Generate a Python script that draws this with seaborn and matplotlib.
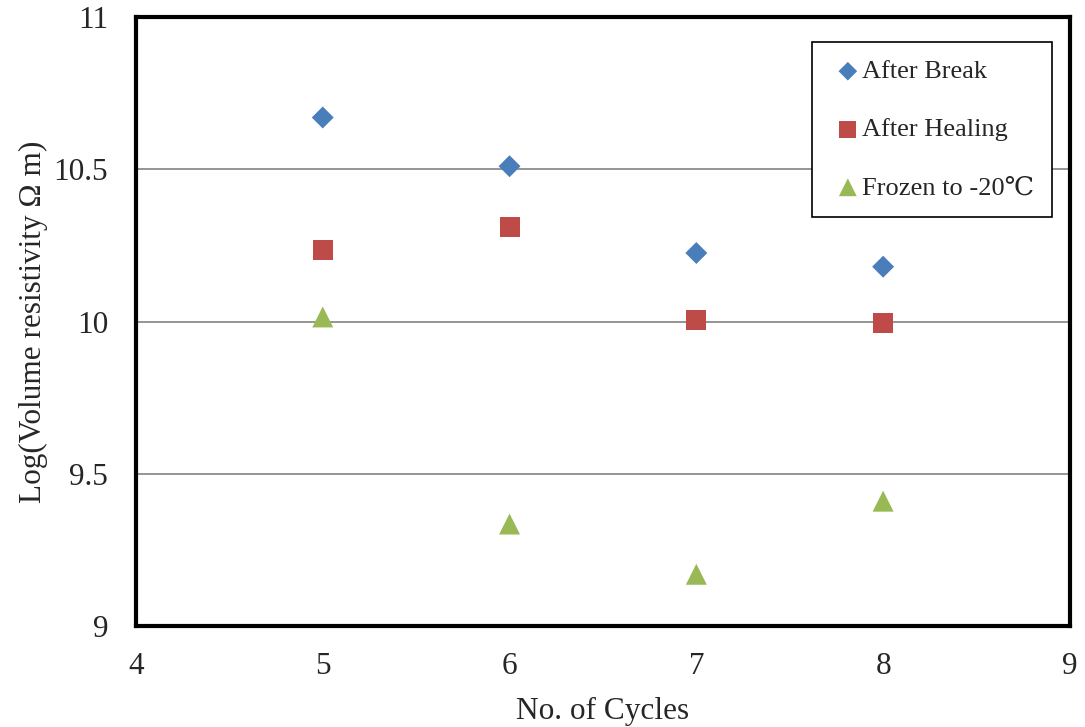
import numpy as np
import matplotlib
matplotlib.use("Agg")
import matplotlib.pyplot as plt
import seaborn as sns
import pandas as pd

# Data
cycles = [5, 6, 7, 8]
after_break = [10.67, 10.51, 10.225, 10.18]
after_healing = [10.235, 10.31, 10.005, 9.995]
frozen = [10.015, 9.335, 9.17, 9.41]

series_names = ["After Break", "After Healing", "Frozen to -20\u2103"]

df = pd.DataFrame({
    "cycle": cycles * 3,
    "value": after_break + after_healing + frozen,
    "series": [series_names[0]] * 4 + [series_names[1]] * 4 + [series_names[2]] * 4,
})

sns.set_style("white")
plt.rcParams['font.family'] = ['Liberation Serif', 'DejaVu Serif']

fig = plt.figure(figsize=(10.85, 7.27), dpi=100)
ax = fig.add_axes([0.1253, 0.1389, 0.8608, 0.8377])

palette = {series_names[0]: "#4a7ebb", series_names[1]: "#be4b48", series_names[2]: "#98b954"}
markers = {series_names[0]: "D", series_names[1]: "s", series_names[2]: "^"}
sizes = {series_names[0]: 125, series_names[1]: 207, series_names[2]: 228}

for name in series_names:
    sub = df[df["series"] == name]
    sns.scatterplot(data=sub, x="cycle", y="value", color=palette[name], marker=markers[name],
                    s=sizes[name], edgecolor="none", ax=ax, label=name, zorder=3)

ax.set_xlim(4, 9)
ax.set_ylim(9, 11)
ax.set_xticks([4, 5, 6, 7, 8, 9])
ax.set_yticks([9, 9.5, 10, 10.5, 11])
ax.set_yticklabels(["9", "9.5", "10", "10.5", "11"])
ax.grid(axis="y", color="#8c8c8c", linewidth=1.3)
ax.grid(axis="x", visible=False)
ax.set_axisbelow(True)

for sp in ax.spines.values():
    sp.set_color("black")
    sp.set_linewidth(3)

ax.tick_params(axis="both", labelsize=22.5, length=0)
ax.tick_params(axis="x", pad=19)
ax.tick_params(axis="y", pad=20)
ax.set_xlabel("No. of Cycles", fontsize=22.5, labelpad=11)
ax.set_ylabel("Log(Volume resistivity \u03a9 m)", fontsize=22.5, labelpad=4)

leg = ax.legend(loc="upper right", bbox_to_anchor=(0.9807, 0.959), borderaxespad=0,
                fontsize=19, frameon=True, fancybox=False, edgecolor="black", framealpha=1,
                labelspacing=1.31, handletextpad=-0.15, borderpad=0.67, handlelength=1.38,
                markerscale=0.85)
leg.get_frame().set_linewidth(1.2)

fig.savefig("out.png", dpi=100)
